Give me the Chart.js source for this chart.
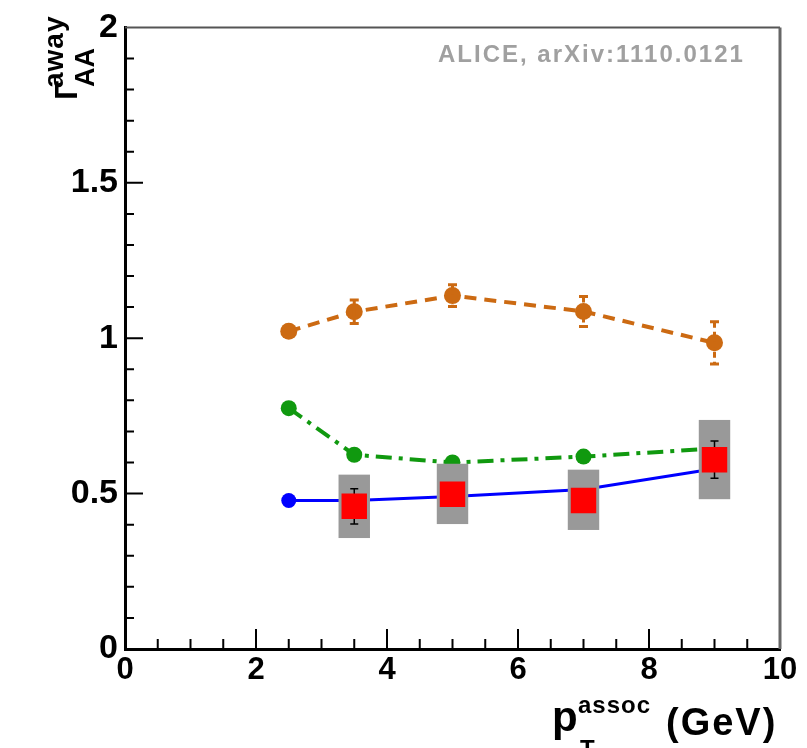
<!DOCTYPE html>
<html>
<head>
<meta charset="utf-8">
<script src="https://cdn.jsdelivr.net/npm/chart.js@4/dist/chart.umd.min.js"></script>
<style>
  html, body { margin: 0; padding: 0; background: #fff; }
  #wrap { width: 807px; height: 748px; }
</style>
</head>
<body>
<div id="wrap"><canvas id="c" width="807" height="748"></canvas></div>
<script>
// model curves (pT assoc bins)
const ptBins = [2.5, 3.5, 5, 7, 9];
const orangeVals = [1.022, 1.085, 1.137, 1.086, 0.985];
const orangeErr = [0, 0.038, 0.035, 0.048, 0.068];
const greenVals = [0.775, 0.625, 0.600, 0.619, 0.645];
const blueVals = [0.478, 0.478, 0.491, 0.513, 0.580];

// ALICE points with stat and sys errors
const dataX = [3.5, 5, 7, 9];
const dataVals = [0.459, 0.498, 0.478, 0.609];
const dataStat = [0.057, 0.02, 0.02, 0.06];
const sysLow = [0.357, 0.402, 0.383, 0.482];
const sysHigh = [0.561, 0.596, 0.577, 0.737];
const sysHalfWidth = 0.24;

// axes
const xTicks = [0, 2, 4, 6, 8, 10];
const yTicks = [0, 0.5, 1, 1.5, 2];

const ORANGE = "#cc6a12";
const GREEN = "#10990f";
const BLUE = "#0000ff";
const RED = "#ff0000";
const FONT = "'Liberation Sans', Arial, sans-serif";

function pairs(xs, ys) {
  return xs.map((x, i) => ({ x: x, y: ys[i] }));
}

// draws text, falling back if letterSpacing is missing
function txt(ctx, s, x, y, size, spacing) {
  ctx.font = "bold " + size + "px " + FONT;
  if ("letterSpacing" in ctx) ctx.letterSpacing = (spacing || 0) + "px";
  ctx.fillText(s, x, y);
  if ("letterSpacing" in ctx) ctx.letterSpacing = "0px";
}

const decor = {
  id: "decor",
  beforeDatasetDraw(chart, args) {
    if (args.index !== 0) return;
    const { ctx, scales: { x, y } } = chart;
    ctx.save();
    // systematic boxes
    ctx.fillStyle = "#999999";
    dataX.forEach((v, i) => {
      const x0 = x.getPixelForValue(v - sysHalfWidth);
      const x1 = x.getPixelForValue(v + sysHalfWidth);
      const y0 = y.getPixelForValue(sysHigh[i]);
      const y1 = y.getPixelForValue(sysLow[i]);
      ctx.fillRect(x0, y0, x1 - x0, y1 - y0);
    });
    // stat errors
    ctx.strokeStyle = "#000";
    ctx.lineWidth = 1.5;
    dataX.forEach((v, i) => {
      const px = x.getPixelForValue(v);
      const top = y.getPixelForValue(dataVals[i] + dataStat[i]);
      const bot = y.getPixelForValue(dataVals[i] - dataStat[i]);
      ctx.beginPath();
      ctx.moveTo(px, top); ctx.lineTo(px, bot);
      ctx.moveTo(px - 4, top); ctx.lineTo(px + 4, top);
      ctx.moveTo(px - 4, bot); ctx.lineTo(px + 4, bot);
      ctx.stroke();
    });
    ctx.restore();
  },
  afterDatasetDraw(chart, args) {
    if (args.index !== 3) return;
    const { ctx, scales: { x, y } } = chart;
    ctx.save();
    ctx.strokeStyle = ORANGE;
    ctx.lineWidth = 3;
    ptBins.forEach((v, i) => {
      if (!orangeErr[i]) return;
      const px = x.getPixelForValue(v);
      const top = y.getPixelForValue(orangeVals[i] + orangeErr[i]);
      const bot = y.getPixelForValue(orangeVals[i] - orangeErr[i]);
      ctx.setLineDash([6, 4]);
      ctx.beginPath();
      ctx.moveTo(px, top); ctx.lineTo(px, bot);
      ctx.stroke();
      ctx.setLineDash([]);
      ctx.beginPath();
      ctx.moveTo(px - 4.5, top); ctx.lineTo(px + 4.5, top);
      ctx.moveTo(px - 4.5, bot); ctx.lineTo(px + 4.5, bot);
      ctx.stroke();
    });
    ctx.restore();
  },
  afterDraw(chart) {
    const { ctx, chartArea: a, scales: { x, y } } = chart;
    ctx.save();
    // frame top and right
    ctx.strokeStyle = "#555";
    ctx.lineWidth = 2;
    ctx.beginPath();
    ctx.moveTo(a.left, a.top); ctx.lineTo(a.right, a.top);
    ctx.stroke();
    ctx.strokeStyle = "#666";
    ctx.lineWidth = 3;
    ctx.beginPath();
    ctx.moveTo(a.right, a.top); ctx.lineTo(a.right, a.bottom);
    ctx.stroke();

    // inner ticks
    ctx.strokeStyle = "#000";
    ctx.lineWidth = 2;
    ctx.beginPath();
    for (let k = 1; k < 20; k++) {
      const py = y.getPixelForValue(k / 10);
      const len = k % 5 === 0 ? 18 : 9;
      ctx.moveTo(a.left, py); ctx.lineTo(a.left + len, py);
    }
    for (let k = 1; k < 20; k++) {
      const px = x.getPixelForValue(k / 2);
      const len = k % 4 === 0 ? 20 : 10;
      ctx.moveTo(px, a.bottom); ctx.lineTo(px, a.bottom - len);
    }
    ctx.stroke();

    // ALICE label
    ctx.fillStyle = "#a0a0a0";
    ctx.textAlign = "left";
    ctx.textBaseline = "alphabetic";
    txt(ctx, "ALICE, arXiv:1110.0121", 438, 62, 24, 2);

    // y title, rotated
    ctx.fillStyle = "#000";
    ctx.save();
    ctx.rotate(-Math.PI / 2);
    // rotated coords: (x', y') -> screen (y', -x')
    txt(ctx, "Γ", -100, 77, 32, 0);
    txt(ctx, "AA", -87, 94, 27, 0);
    txt(ctx, "away", -88, 63, 28, 1);
    ctx.restore();

    // x title
    txt(ctx, "p", 552, 731, 42, 0);
    txt(ctx, "assoc", 578, 713, 24, 1);
    txt(ctx, "T", 580, 757, 24, 0);
    txt(ctx, "(GeV)", 666, 735, 38, 2);
    ctx.restore();
  }
};

new Chart(document.getElementById("c"), {
  type: "line",
  data: {
    datasets: [
      {
        label: "ALICE",
        data: pairs(dataX, dataVals),
        showLine: false,
        pointStyle: "rect",
        pointRadius: 18,
        pointBackgroundColor: RED,
        pointBorderWidth: 0,
        order: 0
      },
      {
        label: "blue",
        data: pairs(ptBins, blueVals),
        borderColor: BLUE,
        borderWidth: 3,
        pointRadius: 7.5,
        pointBackgroundColor: BLUE,
        pointBorderWidth: 0,
        tension: 0,
        order: 1
      },
      {
        label: "green",
        data: pairs(ptBins, greenVals),
        borderColor: GREEN,
        borderWidth: 4,
        borderDash: [16, 7, 4, 7],
        pointRadius: 8,
        pointBackgroundColor: GREEN,
        pointBorderWidth: 0,
        tension: 0,
        order: 2
      },
      {
        label: "orange",
        data: pairs(ptBins, orangeVals),
        borderColor: ORANGE,
        borderWidth: 4,
        borderDash: [12, 8],
        pointRadius: 8.5,
        pointBackgroundColor: ORANGE,
        pointBorderWidth: 0,
        tension: 0,
        order: 3
      }
    ]
  },
  options: {
    responsive: false,
    animation: false,
    events: [],
    layout: { padding: { top: 22, right: 27, left: 0, bottom: 0 } },
    plugins: { legend: { display: false }, tooltip: { enabled: false } },
    scales: {
      x: {
        type: "linear",
        min: 0,
        max: 10,
        afterBuildTicks: s => { s.ticks = xTicks.map(v => ({ value: v })); },
        afterFit: s => { s.height = 99; },
        grid: { display: false, drawTicks: false, tickLength: 0 },
        border: { display: true, color: "#000", width: 3 },
        ticks: {
          padding: 3,
          maxRotation: 0,
          autoSkip: false,
          color: "#000",
          callback: v => String(v),
          font: { family: FONT, weight: "bold", size: 31 }
        }
      },
      y: {
        type: "linear",
        min: 0,
        max: 2,
        afterBuildTicks: s => { s.ticks = yTicks.map(v => ({ value: v })); },
        afterFit: s => { s.width = 125; },
        grid: { display: false, drawTicks: false, tickLength: 0 },
        border: { display: true, color: "#000", width: 3 },
        ticks: {
          padding: 7,
          autoSkip: false,
          color: "#000",
          callback: v => String(v),
          font: { family: FONT, weight: "bold", size: 34 }
        }
      }
    }
  },
  plugins: [decor]
});
</script>
</body>
</html>
